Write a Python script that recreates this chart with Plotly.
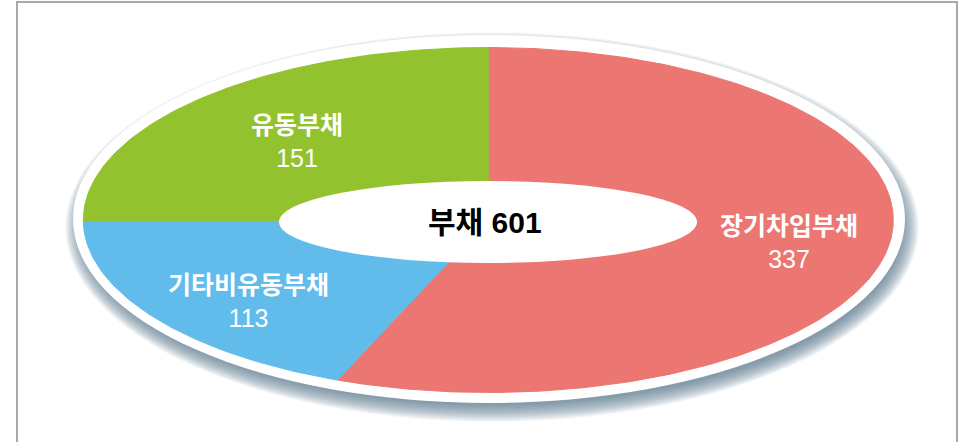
import numpy as np
import plotly.graph_objects as go

# ---- data ----
categories = ["장기차입부채", "기타비유동부채", "유동부채"]
values = [337, 113, 151]
colors = ["#EC7672", "#61BCEB", "#93C22F"]
center_title = "부채"

# ---- layout constants (pixel space) ----
W, H = 970, 442
CX, CY = 488.3, 220.0          # ellipse centre
RA, RB = 405.0, 172.5          # ellipse semi-axes
HOLE = dict(cx=488.0, cy=222.0, a=209.0, b=41.0)
RIM = dict(cx=489.0, cy=219.0, a=416.0, b=184.0)
label_pos = {
    "장기차입부채": (789, 242),
    "기타비유동부채": (248, 301),
    "유동부채": (297, 141),
}

FONT = "Liberation Sans, Noto Sans CJK KR, sans-serif"

fig = go.Figure()

total = sum(values)
start = 0.0
for cat, val, col in zip(categories, values, colors):
    span = val / total * 2 * np.pi
    n = max(int(span / (2 * np.pi) * 400), 8)
    th = np.linspace(start, start + span, n)
    xs = np.concatenate([[CX], CX + RA * np.sin(th), [CX]])
    ys = np.concatenate([[CY], CY - RB * np.cos(th), [CY]])
    fig.add_trace(go.Scatter(
        x=xs, y=ys, mode="lines", fill="toself", fillcolor=col,
        line=dict(color=col, width=1), hoverinfo="skip", showlegend=False,
    ))
    start += span

shapes = []
# soft shadow (offset down-right, blurred by stacking)
for k in range(12):
    e = k * 1.5
    sa, sb = RIM["a"] - 6, RIM["b"] - 6
    scx, scy = RIM["cx"] + 3, RIM["cy"] + 8
    shapes.append(dict(
        type="circle", xref="x", yref="y", layer="below",
        x0=scx - sa - e, x1=scx + sa + e,
        y0=scy - sb - e, y1=scy + sb + e,
        fillcolor="rgba(90,120,138,0.095)", line=dict(width=0),
    ))
# white rim
shapes.append(dict(
    type="circle", xref="x", yref="y", layer="below",
    x0=RIM["cx"] - RIM["a"], x1=RIM["cx"] + RIM["a"],
    y0=RIM["cy"] - RIM["b"], y1=RIM["cy"] + RIM["b"],
    fillcolor="white", line=dict(width=0),
))
# hole
shapes.append(dict(
    type="circle", xref="x", yref="y", layer="above",
    x0=HOLE["cx"] - HOLE["a"], x1=HOLE["cx"] + HOLE["a"],
    y0=HOLE["cy"] - HOLE["b"], y1=HOLE["cy"] + HOLE["b"],
    fillcolor="white", line=dict(width=0),
))
# frame
shapes.append(dict(
    type="rect", xref="x", yref="y", layer="above",
    x0=17, x1=957, y0=2, y1=460,
    line=dict(color="#A8A8A8", width=2), fillcolor="rgba(0,0,0,0)",
))

annotations = []
for cat, val in zip(categories, values):
    x, y = label_pos[cat]
    annotations.append(dict(
        x=x, y=y, xref="x", yref="y", showarrow=False,
        text=f"<b>{cat}</b><br>{val}", align="center",
        font=dict(family=FONT, size=25, color="white"),
    ))
annotations.append(dict(
    x=485, y=222, xref="x", yref="y", showarrow=False,
    text=f"{center_title} {total}",
    font=dict(family=FONT, size=30, color="black", weight="bold"),
))

fig.update_layout(
    width=W, height=H, margin=dict(l=0, r=0, t=0, b=0),
    paper_bgcolor="white", plot_bgcolor="white",
    xaxis=dict(range=[0, W], visible=False, fixedrange=True),
    yaxis=dict(range=[H, 0], visible=False, fixedrange=True),
    shapes=shapes, annotations=annotations, showlegend=False,
)

fig.write_html(
    "out.html",
    config={"displayModeBar": False},
    post_script="document.body.style.margin='0';document.body.style.overflow='hidden';",
)
